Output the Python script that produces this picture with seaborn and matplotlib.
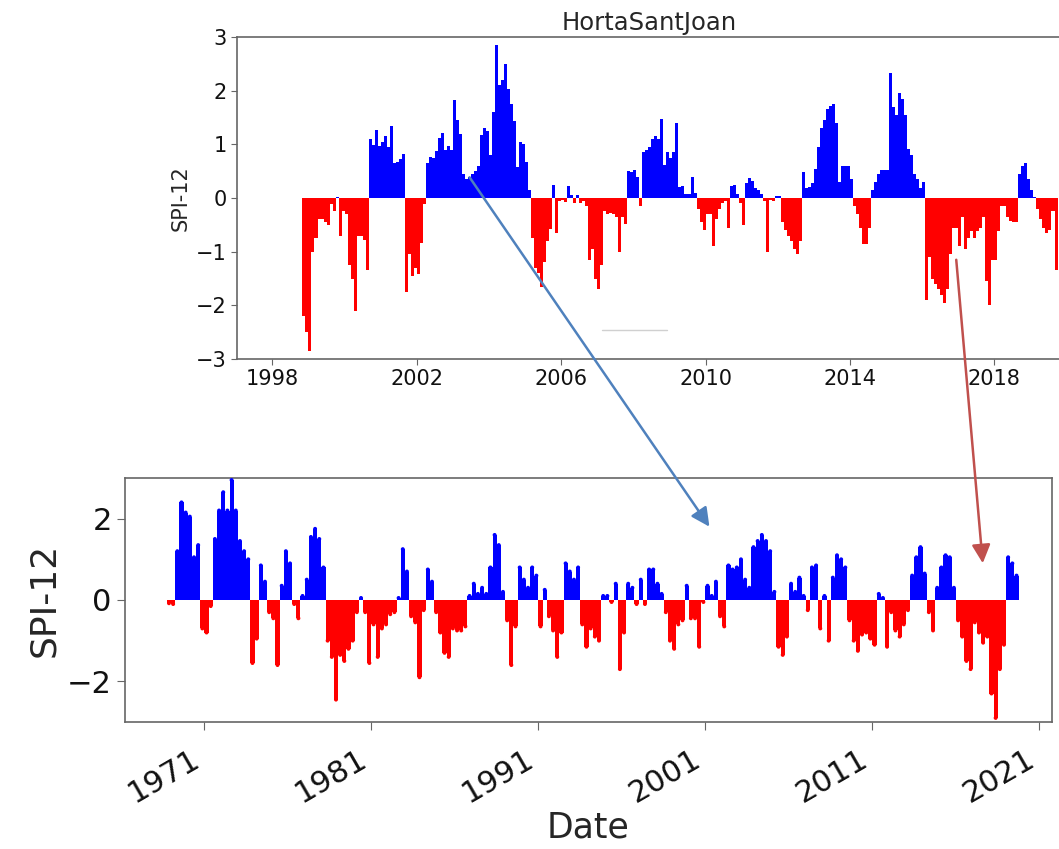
import numpy as np
import pandas as pd
import matplotlib
matplotlib.use('Agg')
import matplotlib.pyplot as plt
import seaborn as sns
from matplotlib.patches import FancyArrowPatch
from matplotlib.lines import Line2D

station = 'HortaSantJoan'

# monthly SPI-12, top panel, from Nov 1998
top_start = '1998-11-01'
top_spi = [
    -2.2, -2.5, -2.85, -1.0, -0.75, -0.4, -0.4, -0.45, -0.5, -0.12, -0.25, 0.02,
    -0.7, -0.25, -0.3, -1.25, -1.5, -2.1, -0.7, -0.7, -0.78, -1.35,
    1.1, 0.98, 1.27, 0.97, 1.05, 1.15, 0.95, 1.35, 0.65, 0.68, 0.72, 0.82,
    -1.75, -1.05, -1.45, -1.3, -1.42, -0.83, -0.12,
    0.66, 0.77, 0.75, 0.87, 1.12, 1.22, 0.9, 0.97, 0.9, 1.83, 1.45, 1.2,
    0.45, 0.35, 0.4, 0.45, 0.5, 0.6, 1.17, 1.3, 1.25, 0.8, 1.6, 2.85,
    2.1, 2.2, 2.5, 2.03, 1.75, 1.43, 0.58, 1.05, 1.0, 0.68, 0.15,
    -0.75, -1.3, -1.4, -1.65, -1.2, -0.8, -0.58,
    0.24, -0.66, -0.05,
    -0.03, -0.08, 0.22, 0.06, -0.1, 0.05, -0.1, -0.05, -0.15,
    -1.15, -0.95, -1.5, -1.7, -1.25, -0.25, -0.3, -0.28, -0.3, -0.35, -1.0, -0.35, -0.48,
    0.5, 0.48, 0.52, 0.4, -0.15, 0.85, 0.9, 0.96, 1.1, 1.15, 1.1, 1.48,
    0.62, 0.85, 0.75, 0.85, 1.4, 0.2, 0.22, 0.08, 0.08, 0.4, 0.1,
    -0.2, -0.45, -0.6, -0.3, -0.3, -0.9, -0.4, -0.2, -0.1, -0.05, -0.55, 0.22,
    0.25, 0.08, -0.1, -0.5, 0.28, 0.38, 0.32, 0.18, 0.15, 0.08, -0.05, -1.0,
    -0.03, -0.05, 0.03, 0.03,
    -0.45, -0.6, -0.7, -0.8, -0.95, -1.05, -0.8,
    0.48, 0.18, 0.2, 0.28, 0.55, 0.95, 1.3, 1.45, 1.65, 1.72, 1.75, 1.4,
    0.3, 0.6, 0.6, 0.6, 0.35,
    -0.15, -0.3, -0.55, -0.85, -0.85, -0.55,
    0.15, 0.3, 0.45, 0.52, 0.52, 0.52, 2.33, 1.7, 1.55, 1.95, 1.85, 1.55,
    0.92, 0.8, 0.45, 0.35, 0.18, 0.3,
    -1.9, -1.1, -1.5, -1.6, -1.7, -1.8, -1.95, -1.7, -1.05, -0.55, -0.55, -0.9,
    -0.35, -0.95, -0.75, -0.62, -0.75, -0.62, -0.55, -0.35, -1.55, -2.0, -1.15, -1.15,
    -0.62, -0.15, -0.15, -0.35, -0.42, -0.45, -0.45,
    0.45, 0.6, 0.65, 0.35, 0.15, 0.02,
    -0.2, -0.4, -0.55, -0.65, -0.6, -0.25, -1.35,
]

# quarterly SPI-12, bottom panel, from Oct 1968
bottom_start = '1968-10-01'
bottom_spi = [
    -0.08, -0.1, 1.2, 2.4, 2.15, 2.05, 1.05, 1.35, -0.7, -0.8,
    -0.15, 1.5, 2.2, 2.65, 2.2, 2.95, 2.2, 1.45, 1.2, 1.0,
    -1.55, -0.95, 0.85, 0.45, -0.3, -0.45, -1.6, 0.35, 1.2, 0.9,
    -0.1, -0.45, 0.1, 0.5, 1.55, 1.75, 1.5, 0.8, -1.0, -1.4,
    -2.45, -1.35, -1.5, -1.2, -1.0, -0.3, 0.05, -0.3, -1.55, -0.6,
    -1.4, -0.7, -0.6, -0.35, -0.3, 0.05, 1.25, 0.7, -0.4, -0.55,
    -1.9, -0.25, 0.75, 0.45, -0.3, -0.8, -1.3, -1.4, -0.7, -0.75,
    -0.75, -0.65, 0.1, 0.4, 0.15, 0.3, 0.15, 0.8, 1.6, 1.35,
    0.2, -0.5, -1.6, -0.65, 0.8, 0.5, 0.3, 0.8, 0.6, -0.65,
    0.25, -0.4, -0.75, -1.4, -0.8, 0.9, 0.7, 0.5, 0.8, -0.6,
    -1.15, -0.7, -0.9, -1.0, 0.1, 0.1, -0.05, 0.4, -1.7, -0.8,
    0.4, 0.3, -0.1, 0.5, -0.1, 0.75, 0.75, 0.4, 0.15, -0.3,
    -1.0, -1.2, -0.6, -0.5, 0.35, -0.45, -0.45, -1.15, -0.05, 0.35,
    0.1, 0.45, -0.4, -0.65, 0.85, 0.75, 0.8, 1.0, 0.5, 0.3,
    1.3, 1.45, 1.6, 1.45, 1.2, 0.2, -1.15, -1.35, -0.9, 0.4,
    0.2, 0.55, 0.1, -0.25, 0.8, 0.85, -0.7, 0.1, -1.0, 0.55,
    1.1, 1.0, 0.8, -0.5, -1.0, -1.25, -0.85, -0.8, -0.95, -1.1,
    0.15, 0.05, -1.15, -0.3, -0.75, -0.9, -0.6, -0.25, 0.6, 1.05,
    1.3, 0.65, -0.3, -0.75, 0.3, 0.8, 1.1, 1.05, 0.3, -0.5,
    -0.9, -1.5, -1.7, -0.55, -0.8, -1.05, -0.9, -2.3, -2.9, -1.7,
    -1.1, 1.05, 0.9, 0.6,
]

top_years = [1998, 2002, 2006, 2010, 2014, 2018]
bottom_years = [1971, 1981, 1991, 2001, 2011, 2021]
top_yticks = [-3, -2, -1, 0, 1, 2, 3]
bottom_yticks = [-2, 0, 2]

colors = {'wet': '#0000ff', 'dry': '#ff0000'}


def to_frame(start, values, freq, months):
    d = pd.date_range(start, periods=len(values), freq=freq)
    df = pd.DataFrame({'spi': values})
    df['x'] = d.year + (d.month - 1 + months / 2) / 12
    df['kind'] = np.where(df['spi'] >= 0, 'wet', 'dry')
    return df


top = to_frame(top_start, top_spi, 'MS', 1)
bottom = to_frame(bottom_start, bottom_spi, 'QS-OCT', 3)

sns.set_style('ticks')
plt.rcParams['font.family'] = 'DejaVu Sans'
plt.rcParams['axes.edgecolor'] = '#666666'
plt.rcParams['xtick.color'] = '#666666'
plt.rcParams['ytick.color'] = '#666666'
plt.rcParams['xtick.labelcolor'] = '#111111'
plt.rcParams['ytick.labelcolor'] = '#111111'

fig = plt.figure(figsize=(10.59, 8.49), dpi=100)
ax1 = fig.add_axes([0.2238, 0.5771, 0.7782, 0.3793])
ax2 = fig.add_axes([0.118, 0.1496, 0.8754, 0.2874])

# top panel
sns.barplot(data=top, x='x', y='spi', hue='kind', palette=colors, native_scale=True,
            dodge=False, width=1, errorbar=None, saturation=1, legend=False,
            linewidth=0, ax=ax1)
ax1.set_xlim(1997.02, 2019.85)
ax1.set_ylim(-3, 3)
ax1.set_xticks(top_years)
ax1.set_xticklabels([str(y) for y in top_years])
ax1.set_yticks(top_yticks)
ax1.tick_params(labelsize=15, length=4)
ax1.set_xlabel('')
ax1.set_ylabel('SPI-12', fontsize=15)
ax1.set_title(station, fontsize=17.5, pad=5)

# bottom panel
sns.barplot(data=bottom, x='x', y='spi', hue='kind', palette=colors, native_scale=True,
            dodge=False, width=1, errorbar=None, saturation=1, legend=False,
            linewidth=0, ax=ax2)
sns.scatterplot(data=bottom, x='x', y='spi', hue='kind', palette=colors, s=8,
                linewidth=0, legend=False, ax=ax2, zorder=3)
ax2.set_xlim(1966.24, 2021.75)
ax2.set_ylim(-3, 3)
ax2.set_xticks(bottom_years)
ax2.set_xticklabels([str(y) for y in bottom_years], rotation=30, ha='right')
ax2.set_yticks(bottom_yticks)
ax2.tick_params(labelsize=22, length=6)
ax2.tick_params(axis='x', pad=10)
ax2.set_xlabel('Date', fontsize=25, labelpad=2)
ax2.set_ylabel('SPI-12', fontsize=26)

for ax in (ax1, ax2):
    for s in ax.spines.values():
        s.set_linewidth(1.2)


def fpos(px, py):
    return (px / 1059, 1 - py / 849)


fig.add_artist(FancyArrowPatch(fpos(468, 175), fpos(711, 529), transform=fig.transFigure,
                               arrowstyle='-|>', mutation_scale=28, lw=1.8,
                               color='#4f81bd', zorder=10))
fig.add_artist(FancyArrowPatch(fpos(956, 257), fpos(983, 566), transform=fig.transFigure,
                               arrowstyle='-|>', mutation_scale=28, lw=1.8,
                               color='#c0504d', zorder=10))
x0, y0 = fpos(602, 330)
x1, _ = fpos(667, 330)
fig.add_artist(Line2D([x0, x1], [y0, y0], transform=fig.transFigure, color='#d0d0d0', lw=1))

fig.savefig('out.png', dpi=100)
